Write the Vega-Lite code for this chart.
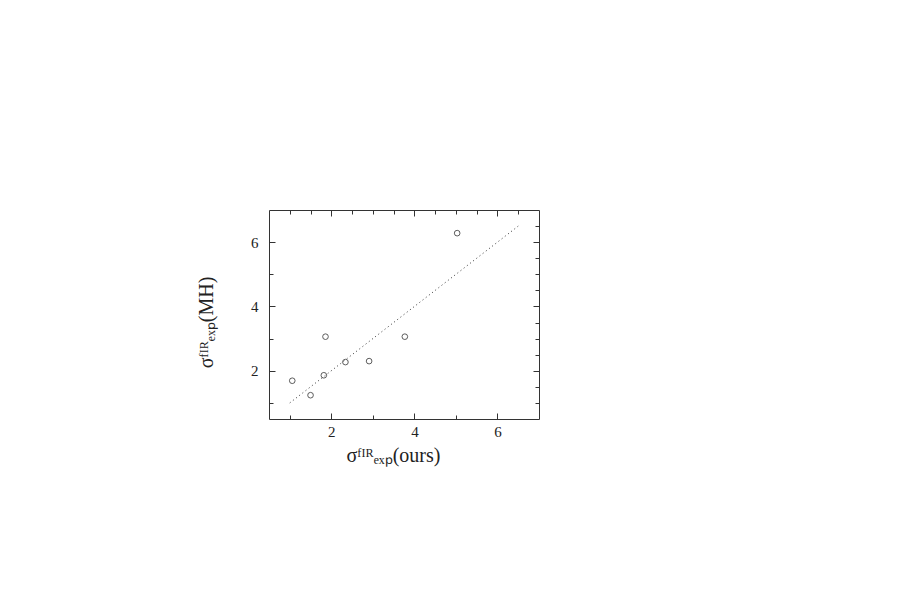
{
  "$schema": "https://vega.github.io/schema/vega-lite/v6.json",
  "width": 270,
  "height": 209,
  "autosize": "none",
  "padding": {"left": 269, "top": 210, "right": 360, "bottom": 180},
  "background": "white",
  "config": {
    "view": {"stroke": "#333333", "strokeWidth": 1},
    "axis": {
      "grid": false,
      "domain": false,
      "labelFont": "Liberation Serif",
      "labelFontSize": 15,
      "labelColor": "#222222",
      "titleFont": "Liberation Serif",
      "titleFontSize": 20,
      "titleFontWeight": "normal",
      "titleColor": "#222222",
      "tickColor": "#333333",
      "tickWidth": 1
    }
  },
  "datasets": {
    "points": [
      {"ours": 1.06, "mh": 1.69},
      {"ours": 1.50, "mh": 1.24},
      {"ours": 1.82, "mh": 1.86},
      {"ours": 1.86, "mh": 3.06},
      {"ours": 2.34, "mh": 2.27},
      {"ours": 2.91, "mh": 2.30},
      {"ours": 3.77, "mh": 3.06},
      {"ours": 5.03, "mh": 6.28}
    ],
    "line": [
      {"x": 1.0, "y": 1.0},
      {"x": 6.5, "y": 6.5}
    ]
  },
  "layer": [
    {
      "data": {"name": "points"},
      "mark": {"type": "point", "shape": "circle", "filled": false, "color": "black", "size": 32, "strokeWidth": 0.9},
      "encoding": {
        "x": {
          "field": "ours", "type": "quantitative",
          "scale": {"domain": [0.5, 7], "nice": false, "zero": false},
          "axis": {
            "orient": "bottom",
            "title": "σᶠᴵᴿₑₓₚ(ours)",
            "values": [1, 1.5, 2, 2.5, 3, 3.5, 4, 4.5, 5, 5.5, 6, 6.5],
            "format": "d",
            "labelExpr": "datum.value % 2 === 0 ? datum.label : ''",
            "tickSize": {"condition": {"test": "datum.value % 2 === 0", "value": -6}, "value": -4},
            "labelPadding": 11,
            "titlePadding": 6,
            "titleX": 124
          }
        },
        "y": {
          "field": "mh", "type": "quantitative",
          "scale": {"domain": [0.5, 7], "nice": false, "zero": false},
          "axis": {
            "orient": "left",
            "title": "σᶠᴵᴿₑₓₚ(MH)",
            "values": [1, 1.5, 2, 2.5, 3, 3.5, 4, 4.5, 5, 5.5, 6, 6.5],
            "format": "d",
            "labelExpr": "datum.value % 2 === 0 ? datum.label : ''",
            "tickSize": {"condition": {"test": "datum.value % 2 === 0", "value": -6}, "value": -4},
            "labelPadding": 17,
            "titlePadding": 34,
            "titleY": 112
          }
        }
      }
    },
    {
      "data": {"name": "line"},
      "mark": {"type": "line", "strokeDash": [1, 3], "color": "#333333", "strokeWidth": 1},
      "encoding": {
        "x": {
          "field": "x", "type": "quantitative",
          "axis": {
            "orient": "top",
            "title": null,
            "labels": false,
            "values": [1, 1.5, 2, 2.5, 3, 3.5, 4, 4.5, 5, 5.5, 6, 6.5],
            "tickSize": {"condition": {"test": "datum.value % 2 === 0", "value": -6}, "value": -4}
          }
        },
        "y": {
          "field": "y", "type": "quantitative",
          "axis": {
            "orient": "right",
            "title": null,
            "labels": false,
            "values": [1, 1.5, 2, 2.5, 3, 3.5, 4, 4.5, 5, 5.5, 6, 6.5],
            "tickSize": {"condition": {"test": "datum.value % 2 === 0", "value": -6}, "value": -4}
          }
        }
      }
    }
  ],
  "resolve": {"axis": {"x": "independent", "y": "independent"}}
}
